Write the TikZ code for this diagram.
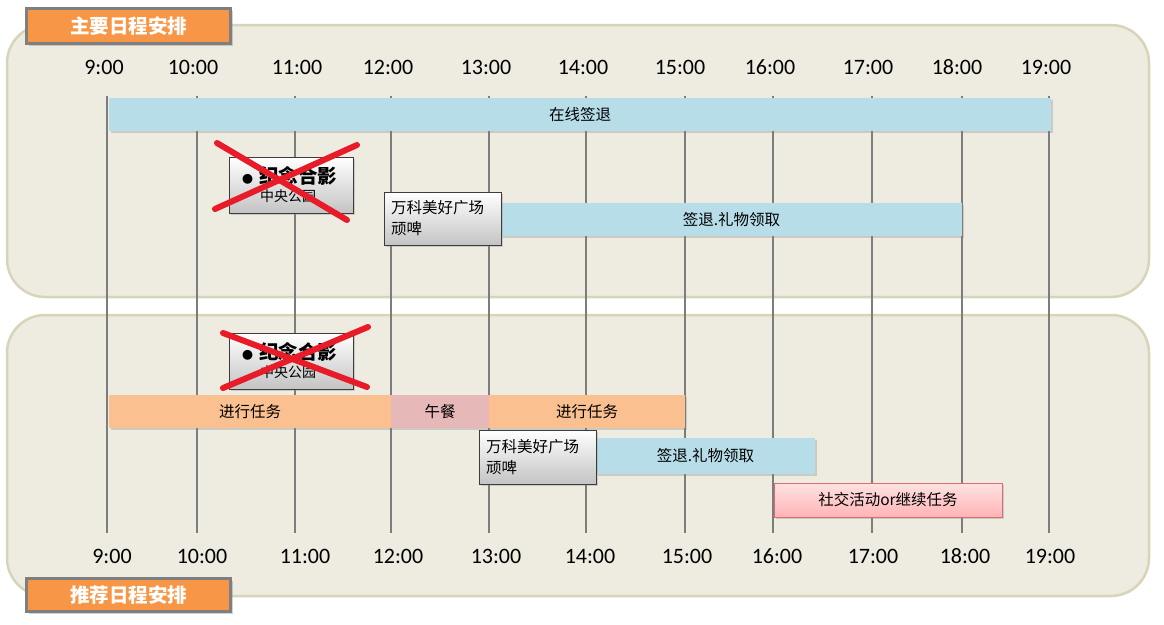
\documentclass[tikz,border=0pt]{standalone}
\usepackage{fontspec}
\setmainfont{Carlito}
\newfontfamily\cjk{Noto Sans CJK SC}
\usetikzlibrary{shadows}
\definecolor{panelfill}{RGB}{238,235,224}
\definecolor{paneledge}{RGB}{216,212,184}
\definecolor{tabfill}{RGB}{247,150,70}
\definecolor{tabedge}{RGB}{127,127,127}
\definecolor{gridline}{RGB}{125,125,125}
\definecolor{sky}{RGB}{183,221,232}
\definecolor{peach}{RGB}{250,192,144}
\definecolor{lunchpink}{RGB}{230,185,184}
\definecolor{rosetop}{RGB}{255,226,226}
\definecolor{rosebot}{RGB}{255,180,182}
\definecolor{roseedge}{RGB}{215,110,112}
\definecolor{boxbot}{RGB}{196,196,196}
\definecolor{boxedge}{RGB}{60,60,60}
\definecolor{crossred}{RGB}{232,28,40}
\newcommand{\taskslot}[7]{% style name x1 x2 y1 y2 text
  \node[#1,minimum width=#4-#3,minimum height=#6-#5] (#2) at ({(#3+#4)/2},{(#5+#6)/2}) {#7};
}
\newcommand{\phototext}{{\fontsize{11}{12}\selectfont ●}\hspace{6pt}{\bfseries\fontsize{19.5}{20}\selectfont 纪念合影}\\[-3pt]\hspace*{18pt}{\fontsize{14}{16}\selectfont 中央公园}}
\tikzset{
  panel/.style={draw=paneledge,line width=2.5pt,fill=panelfill,rounded corners=38pt},
  tabbox/.style={draw=tabedge,line width=3pt,fill=tabfill,text=white,inner sep=0pt,
    minimum width=204,font=\cjk\bfseries\fontsize{19.5}{20}\selectfont,
    drop shadow={shadow xshift=2pt,shadow yshift=-2pt,opacity=0.35}},
  hour/.style={font=\fontsize{22}{22}\selectfont},
  slot/.style={inner sep=0pt,font=\cjk\fontsize{15.5}{21}\selectfont,
    drop shadow={shadow xshift=2pt,shadow yshift=-2pt,opacity=0.3}},
  skyslot/.style={slot,fill=sky},
  peachslot/.style={slot,fill=peach},
  lunchslot/.style={slot,fill=lunchpink},
  roseslot/.style={slot,draw=roseedge,line width=0.8pt,top color=rosetop,bottom color=rosebot},
  grayslot/.style={slot,draw=boxedge,line width=1pt,top color=white,bottom color=boxbot},
  cross/.style={crossred,line width=6pt,line cap=round}
}

\begin{document}
\begin{tikzpicture}[x=1pt,y=-1pt]
  \useasboundingbox (0,0) rectangle (1164,624);
  % panels
  \draw[panel] (7,25) rectangle (1149,297);
  \draw[panel] (7,315) rectangle (1149,596);
  \node[tabbox,minimum height=35] (maintab) at (128.5,26) {主要日程安排};
  \node[tabbox,minimum height=33] (advtab) at (128.5,595) {推荐日程安排};
  % hour grid
  \foreach \x/\a/\b/\h in {107/104/112/9,197/193/202/10,295/297/305/11,391/388/398/12,
      489/486/496/13,586/583/590/14,685/680/687/15,773/770/777/16,872/868/873/17,
      962/957/965/18,1049/1046/1050/19}{
    \draw[gridline,line width=1.4pt] (\x,96) -- (\x,533);
    \node[hour] (up\h) at (\a,67) {\h:00};
    \node[hour] (dn\h) at (\b,556) {\h:00};
  }
  % main plan
  \taskslot{skyslot}{online}{109}{1051}{98}{131}{在线签退}
  \taskslot{grayslot,align=left,text width=98}{photoA}{229}{353}{157}{213}{\phototext}
  \taskslot{skyslot}{giftA}{501}{962}{203}{236}{签退.礼物领取}
  \taskslot{grayslot,align=left,text width=103}{vankeA}{384}{501}{192}{245}{万科美好广场\\顽啤}
  \draw[cross] (217,143) -- (347,220);
  \draw[cross] (357,145) -- (215,209);
  % advised plan
  \taskslot{peachslot}{taskA}{109}{391}{395}{428}{进行任务}
  \taskslot{lunchslot}{lunch}{391}{489}{395}{428}{午餐}
  \taskslot{peachslot}{taskB}{489}{685}{395}{428}{进行任务}
  \taskslot{grayslot,align=left,text width=98}{photoB}{229}{353}{333}{389}{\phototext}
  \taskslot{skyslot}{giftB}{596}{815}{438}{474}{签退.礼物领取}
  \taskslot{grayslot,align=left,text width=103}{vankeB}{479}{596}{430}{484}{万科美好广场\\顽啤}
  \taskslot{roseslot}{social}{774}{1002}{483}{517}{社交活动or继续任务}
  \draw[cross] (223,333) -- (367,387);
  \draw[cross] (368,327) -- (223,388);
\end{tikzpicture}
\end{document}
